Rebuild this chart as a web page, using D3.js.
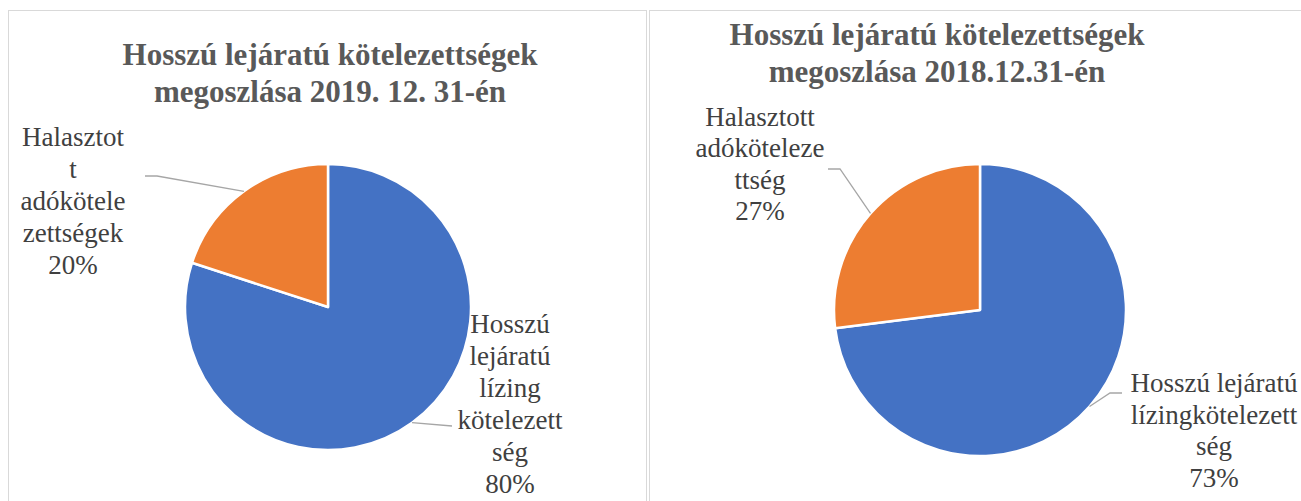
<!DOCTYPE html>
<html><head><meta charset="utf-8">
<script src="https://cdn.jsdelivr.net/npm/d3@7"></script>
<style>html,body{margin:0;padding:0;background:#fff;overflow:hidden}
.serif{font-family:"Liberation Serif","Times New Roman",Times,"DejaVu Serif","Noto Serif",serif}</style>
</head><body><svg id="c" width="1301" height="501"></svg>
<script>
// ---- data ----
const titles2019 = ["Hosszú lejáratú kötelezettségek", "megoszlása 2019. 12. 31-én"];
const titles2018 = ["Hosszú lejáratú kötelezettségek", "megoszlása 2018.12.31-én"];
const categories2019 = ["Hosszú lejáratú lízing kötelezettség", "Halasztott adókötelezettségek"];
const values2019 = [80, 20];
const labelLines2019 = [["Hosszú", "lejáratú", "lízing", "kötelezett", "ség", "80%"],
                        ["Halasztot", "t", "adókötele", "zettségek", "20%"]];
const categories2018 = ["Hosszú lejáratú lízingkötelezettség", "Halasztott adókötelezettség"];
const values2018 = [73, 27];
const labelLines2018 = [["Hosszú lejáratú", "lízingkötelezett", "ség", "73%"],
                        ["Halasztott", "adóköteleze", "ttség", "27%"]];
const colors = ["#4472C4", "#ED7D31"];

// ---- layout ----
const svg = d3.select("#c");
svg.append("rect").attr("x", 8.5).attr("y", 10.5).attr("width", 638).attr("height", 520)
  .attr("fill", "#fff").attr("stroke", "#d9d9d9").attr("stroke-width", 1);
svg.append("rect").attr("x", 649.5).attr("y", 10.5).attr("width", 700).attr("height", 520)
  .attr("fill", "#fff").attr("stroke", "#d9d9d9").attr("stroke-width", 1);

const panels = [
  { titles: titles2019, cats: categories2019, vals: values2019, lines: labelLines2019,
    cx: 328, cy: 307, r: 143, titleX: 330, titleY: 65,
    labels: [ { x: 510, y: 333, step: 32, elbow: [452, 426], end: [452, 426] },
              { x: 73, y: 146, step: 32, elbow: [157, 176], end: [145, 176] } ] },
  { titles: titles2018, cats: categories2018, vals: values2018, lines: labelLines2018,
    cx: 980, cy: 310, r: 146, titleX: 937, titleY: 45,
    labels: [ { x: 1214, y: 392, step: 31.7, elbow: [1110, 393], end: [1122, 393] },
              { x: 760, y: 126, step: 31.3, elbow: [840, 169], end: [828, 169] } ] }
];

panels.forEach(p => {
  const g = svg.append("g");
  const t = g.append("text").attr("class", "serif").attr("x", p.titleX).attr("y", p.titleY)
    .attr("text-anchor", "middle").attr("fill", "#595959")
    .style("font-weight", "bold").style("font-size", "31px");
  p.titles.forEach((s, i) => t.append("tspan").attr("x", p.titleX).attr("dy", i ? 37 : 0).text(s));

  const data = p.cats.map((c, i) => ({ cat: c, value: p.vals[i], i }));
  const pie = d3.pie().value(d => d.value).sort(null);
  const arcs = pie(data);
  const arc = d3.arc().innerRadius(0).outerRadius(p.r);
  const pg = g.append("g").attr("transform", `translate(${p.cx},${p.cy})`);
  pg.selectAll("path").data(arcs).join("path")
    .attr("d", arc).attr("fill", d => colors[d.data.i])
    .attr("stroke", "#fff").attr("stroke-width", 2.5).attr("stroke-linejoin", "round");

  arcs.forEach((a, k) => {
    const L = p.labels[k];
    const mid = (a.startAngle + a.endAngle) / 2;
    const sx = p.cx + p.r * Math.sin(mid), sy = p.cy - p.r * Math.cos(mid);
    g.append("polyline")
      .attr("points", [[sx, sy], L.elbow, L.end].map(q => q.join(",")).join(" "))
      .attr("fill", "none").attr("stroke", "#a6a6a6").attr("stroke-width", 1.3);
    const lt = g.append("text").attr("class", "serif").attr("text-anchor", "middle").attr("fill", "#404040")
      .style("font-size", "27px");
    p.lines[k].forEach((s, i) => lt.append("tspan").attr("x", L.x).attr("y", L.y + i * L.step).text(s));
  });
});
</script></body></html>
